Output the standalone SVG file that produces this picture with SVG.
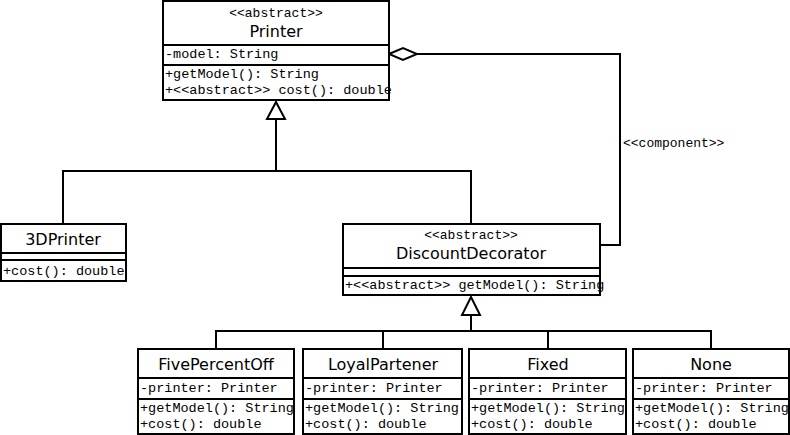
<svg xmlns="http://www.w3.org/2000/svg" width="790" height="435" viewBox="0 0 790 435">
<style>
.box{fill:#fff;stroke:#000;stroke-width:2}
.div{stroke:#000;stroke-width:2}
.ln{fill:none;stroke:#000;stroke-width:2}
.tri{fill:#fff;stroke:#000;stroke-width:2}
.t{font-family:"DejaVu Sans",Verdana,sans-serif;font-size:16px;text-anchor:middle}
.st{font-family:"Liberation Mono","Courier New",monospace;font-size:13px;text-anchor:middle}
.m{font-family:"Liberation Mono","Courier New",monospace;font-size:13.5px}
.lb{font-family:"Liberation Mono","Courier New",monospace;font-size:13px}
</style>
<rect width="790" height="435" fill="#fff"/>
<g id="connectors">
  <polyline class="ln" points="417,54 620,54 620,245 600,245"/>
  <path class="tri" d="M389,54 L403,48 L417,54 L403,60 Z"/>
  <text class="lb" x="623" y="147">&lt;&lt;component&gt;&gt;</text>
  <line class="ln" x1="276" y1="119" x2="276" y2="171"/>
  <polyline class="ln" points="63,224 63,171 471,171 471,224"/>
  <path class="tri" d="M276,102 L285,119 L267,119 Z"/>
  <line class="ln" x1="471" y1="315" x2="471" y2="331"/>
  <polyline class="ln" points="216,349 216,331 711,331 711,349"/>
  <line class="ln" x1="383" y1="331" x2="383" y2="349"/>
  <line class="ln" x1="548" y1="331" x2="548" y2="349"/>
  <path class="tri" d="M471,297 L480,315 L462,315 Z"/>
</g>
<g id="Printer">
  <rect class="box" x="163" y="1" width="226" height="99"/>
  <line class="div" x1="163" y1="45" x2="389" y2="45"/>
  <line class="div" x1="163" y1="65" x2="389" y2="65"/>
  <text class="st" x="276" y="17">&lt;&lt;abstract&gt;&gt;</text>
  <text class="t" x="276" y="37">Printer</text>
  <text class="m" x="165" y="58">-model: String</text>
  <text class="m" x="165" y="78">+getModel(): String</text>
  <text class="m" x="165" y="94">+&lt;&lt;abstract&gt;&gt; cost(): double</text>
</g>
<g id="Printer3D">
  <rect class="box" x="1" y="224" width="125" height="57"/>
  <line class="div" x1="1" y1="253" x2="126" y2="253"/>
  <line class="div" x1="1" y1="260" x2="126" y2="260"/>
  <text class="t" x="63" y="245">3DPrinter</text>
  <text class="m" x="3" y="275">+cost(): double</text>
</g>
<g id="DiscountDecorator">
  <rect class="box" x="343" y="224" width="257" height="71"/>
  <line class="div" x1="343" y1="268" x2="600" y2="268"/>
  <line class="div" x1="343" y1="276" x2="600" y2="276"/>
  <text class="st" x="471" y="239">&lt;&lt;abstract&gt;&gt;</text>
  <text class="t" x="471" y="259">DiscountDecorator</text>
  <text class="m" x="345" y="289">+&lt;&lt;abstract&gt;&gt; getModel(): String</text>
</g>
<g id="FivePercentOff">
  <rect class="box" x="138" y="349" width="156" height="85"/>
  <line class="div" x1="138" y1="378" x2="294" y2="378"/>
  <line class="div" x1="138" y1="399" x2="294" y2="399"/>
  <text class="t" x="216" y="370">FivePercentOff</text>
  <text class="m" x="140" y="392">-printer: Printer</text>
  <text class="m" x="140" y="412">+getModel(): String</text>
  <text class="m" x="140" y="428">+cost(): double</text>
</g>
<g id="LoyalPartener">
  <rect class="box" x="303" y="349" width="159" height="85"/>
  <line class="div" x1="303" y1="378" x2="462" y2="378"/>
  <line class="div" x1="303" y1="399" x2="462" y2="399"/>
  <text class="t" x="383" y="370">LoyalPartener</text>
  <text class="m" x="305" y="392">-printer: Printer</text>
  <text class="m" x="305" y="412">+getModel(): String</text>
  <text class="m" x="305" y="428">+cost(): double</text>
</g>
<g id="Fixed">
  <rect class="box" x="469" y="349" width="157" height="85"/>
  <line class="div" x1="469" y1="378" x2="626" y2="378"/>
  <line class="div" x1="469" y1="399" x2="626" y2="399"/>
  <text class="t" x="548" y="370">Fixed</text>
  <text class="m" x="471" y="392">-printer: Printer</text>
  <text class="m" x="471" y="412">+getModel(): String</text>
  <text class="m" x="471" y="428">+cost(): double</text>
</g>
<g id="None">
  <rect class="box" x="633" y="349" width="156" height="85"/>
  <line class="div" x1="633" y1="378" x2="789" y2="378"/>
  <line class="div" x1="633" y1="399" x2="789" y2="399"/>
  <text class="t" x="711" y="370">None</text>
  <text class="m" x="635" y="392">-printer: Printer</text>
  <text class="m" x="635" y="412">+getModel(): String</text>
  <text class="m" x="635" y="428">+cost(): double</text>
</g>
</svg>
